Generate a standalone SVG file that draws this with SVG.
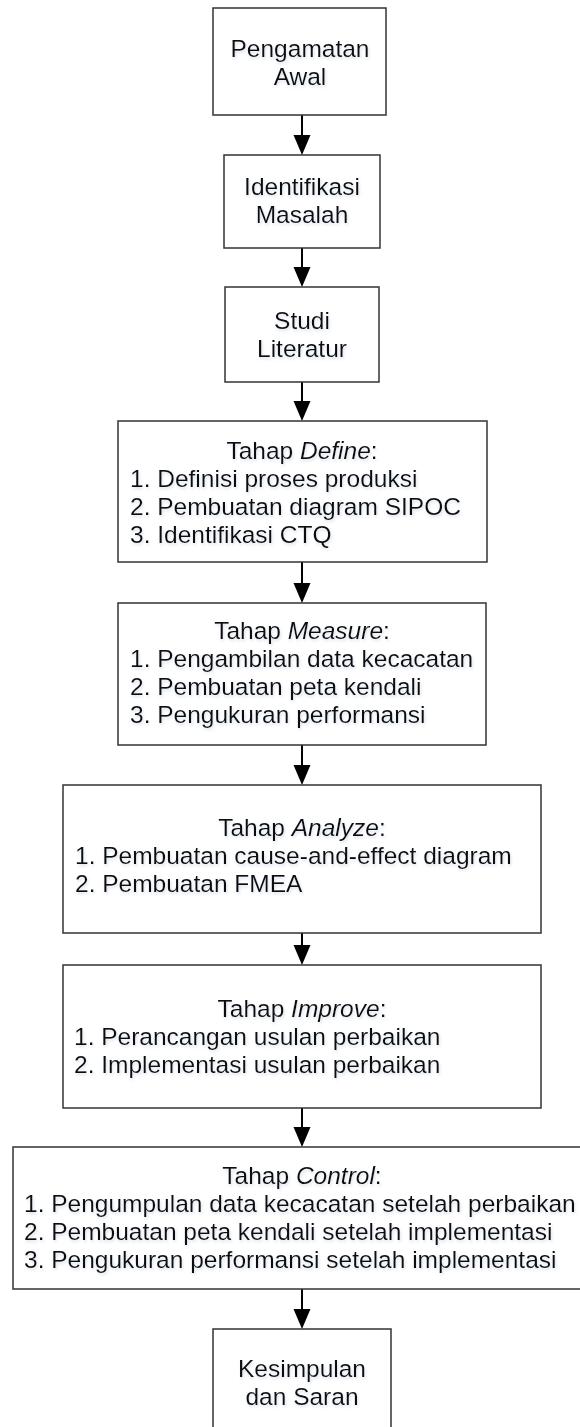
<svg xmlns="http://www.w3.org/2000/svg" width="580" height="1427" viewBox="0 0 580 1427">
  <defs>
    <style>
      .box { fill: #ffffff; stroke: #333333; stroke-width: 1.5; }
      .t { font-family: "Liberation Sans", Arial, sans-serif; font-size: 24.5px; fill: #111111; filter: url(#glow); }
      .c { text-anchor: middle; }
      .i { font-style: italic; }
      .conn line { stroke: #000000; stroke-width: 2; }
      .conn polygon { fill: #000000; }
    </style>
    <filter id="glow" x="-5%" y="-30%" width="110%" height="160%">
      <feFlood flood-color="#b9c7da" flood-opacity="0.55" result="f"/>
      <feComposite in="f" in2="SourceAlpha" operator="in" result="s"/>
      <feGaussianBlur in="s" stdDeviation="1.6" result="b"/>
      <feOffset in="b" dx="0.5" dy="1.5" result="o"/>
      <feMerge><feMergeNode in="o"/><feMergeNode in="SourceGraphic"/></feMerge>
    </filter>
  </defs>

  <g id="connectors" class="conn">
    <line x1="302" y1="115" x2="302" y2="136"/>
    <polygon points="293.5,135 310.5,135 302,155"/>
    <line x1="302" y1="248" x2="302" y2="268"/>
    <polygon points="293.5,267 310.5,267 302,287"/>
    <line x1="302" y1="382" x2="302" y2="402"/>
    <polygon points="293.5,401 310.5,401 302,421"/>
    <line x1="302" y1="562" x2="302" y2="584"/>
    <polygon points="293.5,583 310.5,583 302,603"/>
    <line x1="302" y1="745" x2="302" y2="766"/>
    <polygon points="293.5,765 310.5,765 302,785"/>
    <line x1="302" y1="933" x2="302" y2="946"/>
    <polygon points="293.5,945 310.5,945 302,965"/>
    <line x1="302" y1="1108" x2="302" y2="1128"/>
    <polygon points="293.5,1127 310.5,1127 302,1147"/>
    <line x1="302" y1="1289" x2="302" y2="1310"/>
    <polygon points="293.5,1309 310.5,1309 302,1329"/>
  </g>

  <g id="n1">
    <rect class="box" x="213" y="8" width="173" height="107"/>
    <text class="t c" x="300" y="57">Pengamatan</text>
    <text class="t c" x="300" y="85">Awal</text>
  </g>

  <g id="n2">
    <rect class="box" x="224" y="155" width="156" height="93"/>
    <text class="t c" x="302" y="195">Identifikasi</text>
    <text class="t c" x="302" y="223">Masalah</text>
  </g>

  <g id="n3">
    <rect class="box" x="225" y="287" width="154" height="95"/>
    <text class="t c" x="302" y="329">Studi</text>
    <text class="t c" x="302" y="357">Literatur</text>
  </g>

  <g id="n4">
    <rect class="box" x="118" y="421" width="369" height="141"/>
    <text class="t c" x="302" y="459">Tahap <tspan class="i">Define</tspan>:</text>
    <text class="t" x="130" y="487">1. Definisi proses produksi</text>
    <text class="t" x="130" y="515">2. Pembuatan diagram SIPOC</text>
    <text class="t" x="130" y="543">3. Identifikasi CTQ</text>
  </g>

  <g id="n5">
    <rect class="box" x="118" y="603" width="368" height="142"/>
    <text class="t c" x="302" y="639">Tahap <tspan class="i">Measure</tspan>:</text>
    <text class="t" x="130" y="667">1. Pengambilan data kecacatan</text>
    <text class="t" x="130" y="695">2. Pembuatan peta kendali</text>
    <text class="t" x="130" y="723">3. Pengukuran performansi</text>
  </g>

  <g id="n6">
    <rect class="box" x="63" y="785" width="478" height="148"/>
    <text class="t c" x="302" y="836">Tahap <tspan class="i">Analyze</tspan>:</text>
    <text class="t" x="75" y="864">1. Pembuatan cause-and-effect diagram</text>
    <text class="t" x="75" y="892">2. Pembuatan FMEA</text>
  </g>

  <g id="n7">
    <rect class="box" x="63" y="965" width="478" height="143"/>
    <text class="t c" x="302" y="1017">Tahap <tspan class="i">Improve</tspan>:</text>
    <text class="t" x="74" y="1045">1. Perancangan usulan perbaikan</text>
    <text class="t" x="74" y="1073">2. Implementasi usulan perbaikan</text>
  </g>

  <g id="n8">
    <rect class="box" x="13" y="1147" width="580" height="142"/>
    <text class="t c" x="302" y="1184">Tahap <tspan class="i">Control</tspan>:</text>
    <text class="t" x="24" y="1212">1. Pengumpulan data kecacatan setelah perbaikan</text>
    <text class="t" x="24" y="1240">2. Pembuatan peta kendali setelah implementasi</text>
    <text class="t" x="24" y="1268">3. Pengukuran performansi setelah implementasi</text>
  </g>

  <g id="n9">
    <rect class="box" x="213" y="1329" width="178" height="120"/>
    <text class="t c" x="302" y="1377">Kesimpulan</text>
    <text class="t c" x="302" y="1405">dan Saran</text>
  </g>
</svg>
